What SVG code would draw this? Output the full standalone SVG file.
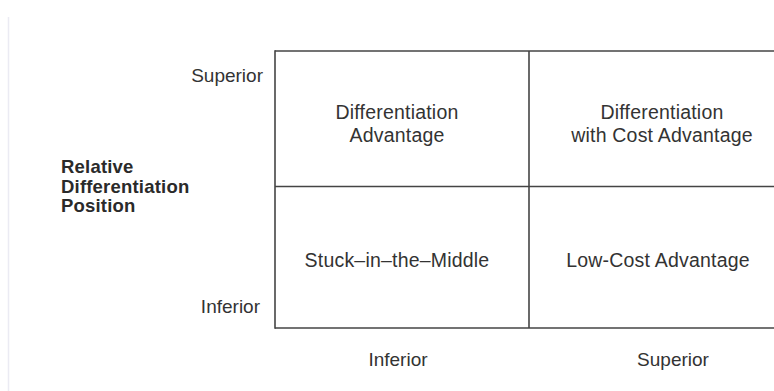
<svg xmlns="http://www.w3.org/2000/svg" width="774" height="391" viewBox="0 0 774 391">
<style>
.t{font-family:"Liberation Sans",Arial,sans-serif;font-size:19px;fill:#333}
.m{font-size:19.5px;letter-spacing:0.2px}
.c{text-anchor:middle}
.e{text-anchor:end}
.b{font-family:"Liberation Sans",Arial,sans-serif;font-size:18.5px;font-weight:bold;fill:#2a2a2a;letter-spacing:0.2px}
.g{stroke:#444;stroke-width:1.6;fill:none}
</style>
<rect width="774" height="391" fill="#fff"/>
<line x1="8.5" y1="17" x2="8.5" y2="391" stroke="#ebebf3" stroke-width="1.5"/>
<g id="axis-y">
<text class="t e" x="263" y="82">Superior</text>
<text class="t e" x="260" y="313">Inferior</text>
<text class="b" x="61" y="173">Relative</text>
<text class="b" x="61" y="193">Differentiation</text>
<text class="b" x="61" y="212">Position</text>
</g>
<g id="axis-x">
<text class="t c" x="398" y="366">Inferior</text>
<text class="t c" x="673" y="366">Superior</text>
</g>
<g id="grid">
<line class="g" x1="275" y1="51" x2="774" y2="51"/>
<line class="g" x1="275" y1="186.5" x2="774" y2="186.5"/>
<line class="g" x1="275" y1="328" x2="774" y2="328"/>
<line class="g" x1="275" y1="50.2" x2="275" y2="328.8"/>
<line class="g" x1="529" y1="51" x2="529" y2="328"/>
</g>
<g id="cell-diff-adv">
<text class="t m c" x="397" y="119">Differentiation</text>
<text class="t m c" x="397" y="142">Advantage</text>
</g>
<g id="cell-diff-cost">
<text class="t m c" x="662" y="119">Differentiation</text>
<text class="t m c" x="662" y="142">with Cost Advantage</text>
</g>
<g id="cell-stuck">
<text class="t m c" x="397" y="267">Stuck–in–the–Middle</text>
</g>
<g id="cell-lowcost">
<text class="t m c" x="658" y="267">Low-Cost Advantage</text>
</g>
</svg>
